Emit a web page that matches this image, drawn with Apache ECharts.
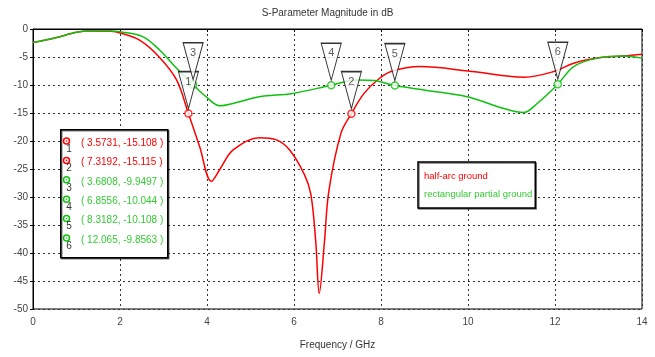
<!DOCTYPE html>
<html>
<head>
<meta charset="utf-8">
<title>S-Parameter</title>
<script src="https://cdn.jsdelivr.net/npm/echarts@6/dist/echarts.min.js"></script>
<style>html,body{margin:0;padding:0;background:#fff}</style>
</head>
<body>
<div id="main" style="width:655px;height:357px;"></div>
<script>
// half-arc ground (red)
var arcFreq = [0, 0.5, 1.0, 1.3, 1.8, 2.0, 2.45, 2.9, 3.3, 3.5731, 3.83, 4.1, 4.3, 4.6, 5.2, 5.6, 5.9, 6.24, 6.39, 6.5, 6.58, 6.7, 6.8, 7.08, 7.3192, 7.61, 7.92, 8.23, 8.9, 10, 11, 11.3, 11.97, 12.43, 13.04, 13.58, 14];
var arcDb = [-2.4, -1.6, -0.6, -0.35, -0.4, -0.7, -2, -5, -9.1, -15.108, -21, -27.2, -25, -21.6, -19.4, -19.8, -21.6, -26, -29.6, -38, -47.2, -38, -29, -18.6, -15.115, -11.5, -9.1, -7.6, -6.7, -7.5, -8.5, -8.6, -7.6, -6.1, -5.1, -4.8, -4.5];
// rectangular partial ground (green)
var rectFreq = [0, 0.5, 1.0, 1.3, 1.8, 2.0, 2.53, 2.91, 3.3, 3.6808, 3.98, 4.29, 4.75, 5.2, 5.97, 6.8556, 7.46, 7.84, 8.3182, 8.99, 9.98, 10.83, 11.28, 11.59, 12.065, 12.43, 12.97, 13.58, 14];
var rectDb = [-2.4, -1.6, -0.6, -0.35, -0.35, -0.5, -1.4, -3.75, -7, -9.9497, -12.1, -13.7, -13, -12.1, -11.5, -10.044, -9.1, -9.2, -10.108, -10.9, -12.1, -14.2, -14.9, -13.3, -9.8563, -6.7, -5.2, -4.8, -5.2];
// markers
var markerFreq = [3.5731, 7.3192, 3.6808, 6.8556, 8.3182, 12.065];
var markerDb = [-15.108, -15.115, -9.9497, -10.044, -10.108, -9.8563];
var markerOnArc = [true, true, false, false, false, false];
var seriesNames = ['half-arc ground', 'rectangular partial ground'];

var RED = '#ff0000', GREEN = '#10c010', TXT_GREEN = '#33cc33';
var FONT = 'Liberation Sans';

function pairs(xs, ys) {
    var out = [];
    for (var i = 0; i < xs.length; i++) out.push([xs[i], ys[i]]);
    return out;
}

var ringPts = [], flagPts = [];
for (var i = 0; i < markerFreq.length; i++) {
    var c = markerOnArc[i] ? RED : GREEN;
    ringPts.push({value: [markerFreq[i], markerDb[i]], itemStyle: {borderColor: c, color: '#fff'}});
    flagPts.push({value: [markerFreq[i], markerDb[i]], name: String(i + 1)});
}

// marker table
var table = [{
    type: 'rect', left: 60, top: 129, z: 100,
    shape: {width: 107, height: 128},
    style: {fill: '#fff', stroke: '#000', lineWidth: 1.5, shadowColor: 'rgba(0,0,0,0.5)', shadowOffsetX: 1, shadowOffsetY: 1}
}];
for (var j = 0; j < markerFreq.length; j++) {
    var y0 = 143 + j * 19.4;
    var col = markerOnArc[j] ? RED : GREEN;
    table.push({type: 'circle', z: 101, shape: {cx: 66.5, cy: y0 - 2, r: 3}, style: {fill: '#fff', stroke: col, lineWidth: 1.5}});
    table.push({type: 'circle', z: 101, shape: {cx: 66.5, cy: y0 - 2, r: 0.8}, style: {fill: col}});
    table.push({type: 'text', z: 101, x: 69, y: y0 + 6, style: {text: String(j + 1), fill: '#333', font: '10px ' + FONT, align: 'center', verticalAlign: 'middle'}});
    table.push({type: 'text', z: 101, x: 81, y: y0, style: {
        text: '( ' + markerFreq[j] + ', ' + markerDb[j] + ' )',
        fill: markerOnArc[j] ? RED : TXT_GREEN, font: '10px ' + FONT, verticalAlign: 'middle'}});
}

var chart = echarts.init(document.getElementById('main'));
chart.setOption({
    animation: false,
    title: {
        text: 'S-Parameter Magnitude in dB', left: 'center', top: 3,
        textStyle: {fontSize: 10, fontWeight: 'normal', color: '#333', fontFamily: FONT}
    },
    grid: {left: 33, right: 13, top: 29, bottom: 48, show: true, borderColor: '#000', borderWidth: 1},
    legend: {
        left: 418, top: 162, orient: 'vertical', selectedMode: false,
        itemWidth: 0, itemHeight: 0, itemGap: 6,
        padding: [8, 3, 8, 0],
        borderColor: '#000', borderWidth: 1.5, backgroundColor: '#fff',
        shadowColor: 'rgba(0,0,0,0.5)', shadowOffsetX: 1, shadowOffsetY: 1,
        textStyle: {fontSize: 9.5, fontFamily: FONT, lineHeight: 12},
        data: [
            {name: seriesNames[0], textStyle: {color: RED}},
            {name: seriesNames[1], textStyle: {color: TXT_GREEN}}
        ]
    },
    xAxis: {
        type: 'value', min: 0, max: 14, interval: 2,
        name: 'Frequency / GHz', nameLocation: 'middle', nameGap: 31,
        nameTextStyle: {fontSize: 10, color: '#333', fontFamily: FONT},
        axisLine: {lineStyle: {color: '#000'}},
        axisTick: {show: true, length: 3, lineStyle: {color: '#000'}},
        axisLabel: {fontSize: 10, color: '#444', fontFamily: FONT, margin: 8},
        splitLine: {show: true, lineStyle: {color: '#333', type: [2, 3]}}
    },
    yAxis: {
        type: 'value', min: -50, max: 0, interval: 5,
        axisLine: {show: true, lineStyle: {color: '#000'}},
        axisTick: {show: true, length: 3, lineStyle: {color: '#000'}},
        axisLabel: {fontSize: 10, color: '#444', fontFamily: FONT, margin: 5},
        splitLine: {show: true, lineStyle: {color: '#333', type: [2, 3]}}
    },
    series: [
        {
            name: seriesNames[0], type: 'line', smooth: 0.35, showSymbol: false,
            data: pairs(arcFreq, arcDb), color: RED, lineStyle: {width: 1.5, color: RED}, z: 3
        },
        {
            name: seriesNames[1], type: 'line', smooth: 0.35, showSymbol: false,
            data: pairs(rectFreq, rectDb), color: GREEN, lineStyle: {width: 1.5, color: GREEN}, z: 4
        },
        {
            type: 'scatter', data: ringPts, symbol: 'circle', symbolSize: 7, z: 6,
            itemStyle: {borderWidth: 1.5}, silent: true
        },
        {
            type: 'scatter', data: flagPts, z: 7, silent: true,
            symbol: 'path://M0,0 L20,0 L10,37 Z', symbolSize: [20, 37], symbolOffset: [0, -23.5],
            itemStyle: {color: '#fff', borderColor: '#000', borderWidth: 1.2},
            label: {
                show: true, position: ['50%', '28%'], align: 'center', verticalAlign: 'middle',
                formatter: '{b}', fontSize: 11, color: '#333', fontFamily: FONT
            }
        }
    ],
    graphic: table
});
</script>
</body>
</html>
